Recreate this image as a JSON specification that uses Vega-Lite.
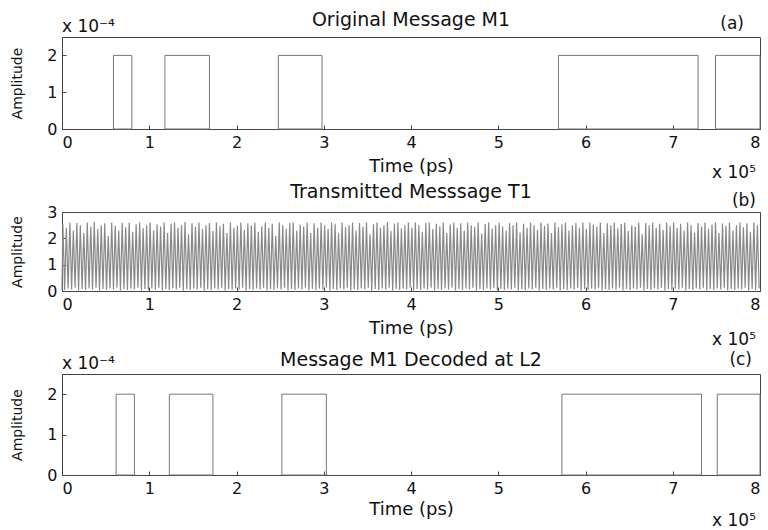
{
"$schema": "https://vega.github.io/schema/vega-lite/v6.json",
"padding": {"left": 10, "top": 10, "right": 2, "bottom": 0},
"spacing": 83,
"bounds": "flush",
"config": {
  "font": "DejaVu Sans",
  "view": {"stroke": "#444", "strokeWidth": 1},
  "axis": {"domainColor": "#444", "tickColor": "#444", "labelColor": "#111", "titleColor": "#111", "labelFont": "DejaVu Sans", "titleFont": "DejaVu Sans", "labelFontSize": 16, "titleFontSize": 18, "titleFontWeight": "normal", "grid": false, "tickSize": -4, "format": "d", "labelOverlap": false},
  "axisY": {"titleFontSize": 14, "labelPadding": 9, "titlePadding": 22},
  "axisX": {"labelPadding": 9},
  "text": {"font": "DejaVu Sans", "fontSize": 17, "color": "#111"}
},
"datasets": {
  "m1": [{"s":0.59,"e":0.80,"h":2},{"s":1.18,"e":1.69,"h":2},{"s":2.48,"e":2.98,"h":2},{"s":5.69,"e":7.29,"h":2},{"s":7.49,"e":8,"h":2}],
  "d1": [{"s":0.62,"e":0.83,"h":2},{"s":1.23,"e":1.73,"h":2},{"s":2.52,"e":3.03,"h":2},{"s":5.73,"e":7.33,"h":2},{"s":7.51,"e":8,"h":2}],
  "t1": [
{"t":0,"a":0.06},
{"t":0.01,"a":2.55},{"t":0.03,"a":0.04},{"t":0.05,"a":2.4},{"t":0.07,"a":0.1},{"t":0.09,"a":2.6},{"t":0.11,"a":0.06},{"t":0.13,"a":2.3},{"t":0.15,"a":0.12},{"t":0.17,"a":2.58},{"t":0.19,"a":0.02},{"t":0.21,"a":2.5},{"t":0.23,"a":0.08},{"t":0.25,"a":2.2},{"t":0.27,"a":0.04},{"t":0.29,"a":2.6},{"t":0.31,"a":0.1},{"t":0.33,"a":2.45},{"t":0.35,"a":0.06},{"t":0.37,"a":2.62},{"t":0.39,"a":0.12},{"t":0.41,"a":2.35},{"t":0.43,"a":0.02},{"t":0.45,"a":2.5},{"t":0.47,"a":0.08},{"t":0.49,"a":2.57},{"t":0.51,"a":0.04},{"t":0.53,"a":2.1},{"t":0.55,"a":0.1},{"t":0.57,"a":2.6},{"t":0.59,"a":0.06},{"t":0.61,"a":2.48},{"t":0.63,"a":0.12},{"t":0.65,"a":2.3},{"t":0.67,"a":0.02},{"t":0.69,"a":2.59},{"t":0.71,"a":0.08},{"t":0.73,"a":2.42},{"t":0.75,"a":0.04},{"t":0.77,"a":2.6},{"t":0.79,"a":0.1},{"t":0.81,"a":2.25},{"t":0.83,"a":0.06},{"t":0.85,"a":2.53},{"t":0.87,"a":0.12},{"t":0.89,"a":2.6},{"t":0.91,"a":0.02},{"t":0.93,"a":2.38},{"t":0.95,"a":0.08},{"t":0.97,"a":2.5},{"t":0.99,"a":0.04},
{"t":1.01,"a":2.6},{"t":1.03,"a":0.1},{"t":1.05,"a":2.3},{"t":1.07,"a":0.06},{"t":1.09,"a":2.52},{"t":1.11,"a":0.12},{"t":1.13,"a":2.45},{"t":1.15,"a":0.02},{"t":1.17,"a":2.6},{"t":1.19,"a":0.08},{"t":1.21,"a":2.2},{"t":1.23,"a":0.04},{"t":1.25,"a":2.55},{"t":1.27,"a":0.1},{"t":1.29,"a":2.6},{"t":1.31,"a":0.06},{"t":1.33,"a":2.4},{"t":1.35,"a":0.12},{"t":1.37,"a":2.5},{"t":1.39,"a":0.02},{"t":1.41,"a":2.62},{"t":1.43,"a":0.08},{"t":1.45,"a":2.15},{"t":1.47,"a":0.04},{"t":1.49,"a":2.57},{"t":1.51,"a":0.1},{"t":1.53,"a":2.44},{"t":1.55,"a":0.06},{"t":1.57,"a":2.6},{"t":1.59,"a":0.12},{"t":1.61,"a":2.35},{"t":1.63,"a":0.02},{"t":1.65,"a":2.5},{"t":1.67,"a":0.08},{"t":1.69,"a":2.58},{"t":1.71,"a":0.04},{"t":1.73,"a":2.28},{"t":1.75,"a":0.1},{"t":1.77,"a":2.6},{"t":1.79,"a":0.06},{"t":1.81,"a":2.46},{"t":1.83,"a":0.12},{"t":1.85,"a":2.55},{"t":1.87,"a":0.02},{"t":1.89,"a":2.2},{"t":1.91,"a":0.08},{"t":1.93,"a":2.6},{"t":1.95,"a":0.04},{"t":1.97,"a":2.4},{"t":1.99,"a":0.1},
{"t":2.01,"a":2.48},{"t":2.03,"a":0.06},{"t":2.05,"a":2.6},{"t":2.07,"a":0.12},{"t":2.09,"a":2.32},{"t":2.11,"a":0.02},{"t":2.13,"a":2.57},{"t":2.15,"a":0.08},{"t":2.17,"a":2.5},{"t":2.19,"a":0.04},{"t":2.21,"a":2.6},{"t":2.23,"a":0.1},{"t":2.25,"a":2.25},{"t":2.27,"a":0.06},{"t":2.29,"a":2.45},{"t":2.31,"a":0.12},{"t":2.33,"a":2.6},{"t":2.35,"a":0.02},{"t":2.37,"a":2.4},{"t":2.39,"a":0.08},{"t":2.41,"a":2.55},{"t":2.43,"a":0.04},{"t":2.45,"a":2.1},{"t":2.47,"a":0.1},{"t":2.49,"a":2.6},{"t":2.51,"a":0.06},{"t":2.53,"a":2.5},{"t":2.55,"a":0.12},{"t":2.57,"a":2.36},{"t":2.59,"a":0.02},{"t":2.61,"a":2.58},{"t":2.63,"a":0.08},{"t":2.65,"a":2.6},{"t":2.67,"a":0.04},{"t":2.69,"a":2.3},{"t":2.71,"a":0.1},{"t":2.73,"a":2.52},{"t":2.75,"a":0.06},{"t":2.77,"a":2.45},{"t":2.79,"a":0.12},{"t":2.81,"a":2.6},{"t":2.83,"a":0.02},{"t":2.85,"a":2.2},{"t":2.87,"a":0.08},{"t":2.89,"a":2.57},{"t":2.91,"a":0.04},{"t":2.93,"a":2.4},{"t":2.95,"a":0.1},{"t":2.97,"a":2.6},{"t":2.99,"a":0.06},
{"t":3.01,"a":2.5},{"t":3.03,"a":0.12},{"t":3.05,"a":2.35},{"t":3.07,"a":0.02},{"t":3.09,"a":2.6},{"t":3.11,"a":0.08},{"t":3.13,"a":2.55},{"t":3.15,"a":0.04},{"t":3.17,"a":2.2},{"t":3.19,"a":0.1},{"t":3.21,"a":2.6},{"t":3.23,"a":0.06},{"t":3.25,"a":2.42},{"t":3.27,"a":0.12},{"t":3.29,"a":2.5},{"t":3.31,"a":0.02},{"t":3.33,"a":2.6},{"t":3.35,"a":0.08},{"t":3.37,"a":2.3},{"t":3.39,"a":0.04},{"t":3.41,"a":2.58},{"t":3.43,"a":0.1},{"t":3.45,"a":2.45},{"t":3.47,"a":0.06},{"t":3.49,"a":2.6},{"t":3.51,"a":0.12},{"t":3.53,"a":2.15},{"t":3.55,"a":0.02},{"t":3.57,"a":2.53},{"t":3.59,"a":0.08},{"t":3.61,"a":2.6},{"t":3.63,"a":0.04},{"t":3.65,"a":2.4},{"t":3.67,"a":0.1},{"t":3.69,"a":2.5},{"t":3.71,"a":0.06},{"t":3.73,"a":2.62},{"t":3.75,"a":0.12},{"t":3.77,"a":2.28},{"t":3.79,"a":0.02},{"t":3.81,"a":2.55},{"t":3.83,"a":0.08},{"t":3.85,"a":2.6},{"t":3.87,"a":0.04},{"t":3.89,"a":2.38},{"t":3.91,"a":0.1},{"t":3.93,"a":2.5},{"t":3.95,"a":0.06},{"t":3.97,"a":2.6},{"t":3.99,"a":0.12},
{"t":4.01,"a":2.4},{"t":4.03,"a":0.02},{"t":4.05,"a":2.6},{"t":4.07,"a":0.08},{"t":4.09,"a":2.5},{"t":4.11,"a":0.04},{"t":4.13,"a":2.25},{"t":4.15,"a":0.1},{"t":4.17,"a":2.58},{"t":4.19,"a":0.06},{"t":4.21,"a":2.6},{"t":4.23,"a":0.12},{"t":4.25,"a":2.35},{"t":4.27,"a":0.02},{"t":4.29,"a":2.55},{"t":4.31,"a":0.08},{"t":4.33,"a":2.46},{"t":4.35,"a":0.04},{"t":4.37,"a":2.6},{"t":4.39,"a":0.1},{"t":4.41,"a":2.2},{"t":4.43,"a":0.06},{"t":4.45,"a":2.52},{"t":4.47,"a":0.12},{"t":4.49,"a":2.6},{"t":4.51,"a":0.02},{"t":4.53,"a":2.4},{"t":4.55,"a":0.08},{"t":4.57,"a":2.57},{"t":4.59,"a":0.04},{"t":4.61,"a":2.3},{"t":4.63,"a":0.1},{"t":4.65,"a":2.6},{"t":4.67,"a":0.06},{"t":4.69,"a":2.5},{"t":4.71,"a":0.12},{"t":4.73,"a":2.44},{"t":4.75,"a":0.02},{"t":4.77,"a":2.6},{"t":4.79,"a":0.08},{"t":4.81,"a":2.18},{"t":4.83,"a":0.04},{"t":4.85,"a":2.55},{"t":4.87,"a":0.1},{"t":4.89,"a":2.6},{"t":4.91,"a":0.06},{"t":4.93,"a":2.36},{"t":4.95,"a":0.12},{"t":4.97,"a":2.5},{"t":4.99,"a":0.02},
{"t":5.01,"a":2.6},{"t":5.03,"a":0.08},{"t":5.05,"a":2.45},{"t":5.07,"a":0.04},{"t":5.09,"a":2.3},{"t":5.11,"a":0.1},{"t":5.13,"a":2.58},{"t":5.15,"a":0.06},{"t":5.17,"a":2.5},{"t":5.19,"a":0.12},{"t":5.21,"a":2.6},{"t":5.23,"a":0.02},{"t":5.25,"a":2.22},{"t":5.27,"a":0.08},{"t":5.29,"a":2.55},{"t":5.31,"a":0.04},{"t":5.33,"a":2.4},{"t":5.35,"a":0.1},{"t":5.37,"a":2.6},{"t":5.39,"a":0.06},{"t":5.41,"a":2.5},{"t":5.43,"a":0.12},{"t":5.45,"a":2.33},{"t":5.47,"a":0.02},{"t":5.49,"a":2.6},{"t":5.51,"a":0.08},{"t":5.53,"a":2.47},{"t":5.55,"a":0.04},{"t":5.57,"a":2.56},{"t":5.59,"a":0.1},{"t":5.61,"a":2.2},{"t":5.63,"a":0.06},{"t":5.65,"a":2.6},{"t":5.67,"a":0.12},{"t":5.69,"a":2.42},{"t":5.71,"a":0.02},{"t":5.73,"a":2.52},{"t":5.75,"a":0.08},{"t":5.77,"a":2.6},{"t":5.79,"a":0.04},{"t":5.81,"a":2.3},{"t":5.83,"a":0.1},{"t":5.85,"a":2.5},{"t":5.87,"a":0.06},{"t":5.89,"a":2.58},{"t":5.91,"a":0.12},{"t":5.93,"a":2.4},{"t":5.95,"a":0.02},{"t":5.97,"a":2.6},{"t":5.99,"a":0.08},
{"t":6.01,"a":2.35},{"t":6.03,"a":0.04},{"t":6.05,"a":2.6},{"t":6.07,"a":0.1},{"t":6.09,"a":2.52},{"t":6.11,"a":0.06},{"t":6.13,"a":2.45},{"t":6.15,"a":0.12},{"t":6.17,"a":2.6},{"t":6.19,"a":0.02},{"t":6.21,"a":2.2},{"t":6.23,"a":0.08},{"t":6.25,"a":2.57},{"t":6.27,"a":0.04},{"t":6.29,"a":2.5},{"t":6.31,"a":0.1},{"t":6.33,"a":2.6},{"t":6.35,"a":0.06},{"t":6.37,"a":2.38},{"t":6.39,"a":0.12},{"t":6.41,"a":2.55},{"t":6.43,"a":0.02},{"t":6.45,"a":2.6},{"t":6.47,"a":0.08},{"t":6.49,"a":2.28},{"t":6.51,"a":0.04},{"t":6.53,"a":2.5},{"t":6.55,"a":0.1},{"t":6.57,"a":2.44},{"t":6.59,"a":0.06},{"t":6.61,"a":2.6},{"t":6.63,"a":0.12},{"t":6.65,"a":2.15},{"t":6.67,"a":0.02},{"t":6.69,"a":2.58},{"t":6.71,"a":0.08},{"t":6.73,"a":2.5},{"t":6.75,"a":0.04},{"t":6.77,"a":2.6},{"t":6.79,"a":0.1},{"t":6.81,"a":2.4},{"t":6.83,"a":0.06},{"t":6.85,"a":2.55},{"t":6.87,"a":0.12},{"t":6.89,"a":2.32},{"t":6.91,"a":0.02},{"t":6.93,"a":2.6},{"t":6.95,"a":0.08},{"t":6.97,"a":2.48},{"t":6.99,"a":0.04},
{"t":7.01,"a":2.6},{"t":7.03,"a":0.1},{"t":7.05,"a":2.4},{"t":7.07,"a":0.06},{"t":7.09,"a":2.55},{"t":7.11,"a":0.12},{"t":7.13,"a":2.3},{"t":7.15,"a":0.02},{"t":7.17,"a":2.6},{"t":7.19,"a":0.08},{"t":7.21,"a":2.5},{"t":7.23,"a":0.04},{"t":7.25,"a":2.22},{"t":7.27,"a":0.1},{"t":7.29,"a":2.58},{"t":7.31,"a":0.06},{"t":7.33,"a":2.45},{"t":7.35,"a":0.12},{"t":7.37,"a":2.6},{"t":7.39,"a":0.02},{"t":7.41,"a":2.36},{"t":7.43,"a":0.08},{"t":7.45,"a":2.52},{"t":7.47,"a":0.04},{"t":7.49,"a":2.6},{"t":7.51,"a":0.1},{"t":7.53,"a":2.2},{"t":7.55,"a":0.06},{"t":7.57,"a":2.56},{"t":7.59,"a":0.12},{"t":7.61,"a":2.48},{"t":7.63,"a":0.02},{"t":7.65,"a":2.6},{"t":7.67,"a":0.08},{"t":7.69,"a":2.3},{"t":7.71,"a":0.04},{"t":7.73,"a":2.5},{"t":7.75,"a":0.1},{"t":7.77,"a":2.6},{"t":7.79,"a":0.06},{"t":7.81,"a":2.42},{"t":7.83,"a":0.12},{"t":7.85,"a":2.57},{"t":7.87,"a":0.02},{"t":7.89,"a":2.25},{"t":7.91,"a":0.08},{"t":7.93,"a":2.6},{"t":7.95,"a":0.04},{"t":7.97,"a":2.5},{"t":7.99,"a":0.1}
  ],
  "labA": [{"title":"Original Message M1","tag":"(a)","mult":"x 10⁻⁴","xm":"x 10⁵"}],
  "labB": [{"title":"Transmitted Messsage T1","tag":"(b)","xm":"x 10⁵"}],
  "labC": [{"title":"Message M1 Decoded at L2","tag":"(c)","mult":"x 10⁻⁴","xm":"x 10⁵"}]
},
"vconcat": [
  {
    "width": 698, "height": 92,
    "layer": [
      {"data": {"name": "m1"},
       "mark": {"type": "rect", "fillOpacity": 0, "stroke": "#777", "strokeWidth": 1},
       "encoding": {
         "x": {"field": "s", "type": "quantitative", "scale": {"domain": [0, 8], "nice": false}, "axis": {"values": [0,1,2,3,4,5,6,7,8], "title": "Time (ps)", "titlePadding": 7}},
         "x2": {"field": "e"},
         "y": {"field": "h", "type": "quantitative", "scale": {"domain": [0, 2.5], "nice": false}, "axis": {"values": [0,1,2], "title": "Amplitude", "labelOverlap": false}},
         "y2": {"datum": 0}
       }},
      {"data": {"name": "labA"},
       "mark": {"type": "text", "align": "center", "dy": -17, "fontSize": 19},
       "encoding": {"x": {"datum": 4, "type": "quantitative"}, "y": {"datum": 2.5, "type": "quantitative"}, "text": {"field": "title"}}},
      {"data": {"name": "labA"},
       "mark": {"type": "text", "align": "right", "dx": -16, "dy": -13},
       "encoding": {"x": {"datum": 8, "type": "quantitative"}, "y": {"datum": 2.5, "type": "quantitative"}, "text": {"field": "tag"}}},
      {"data": {"name": "labA"},
       "mark": {"type": "text", "align": "left", "dx": 0, "dy": -10},
       "encoding": {"x": {"datum": 0, "type": "quantitative"}, "y": {"datum": 2.5, "type": "quantitative"}, "text": {"field": "mult"}}},
      {"data": {"name": "labA"},
       "mark": {"type": "text", "align": "right", "dx": -4, "dy": 44},
       "encoding": {"x": {"datum": 8, "type": "quantitative"}, "y": {"datum": 0, "type": "quantitative"}, "text": {"field": "xm"}}}
    ]
  },
  {
    "width": 698, "height": 79,
    "layer": [
      {"data": {"name": "t1"},
       "mark": {"type": "line", "stroke": "#888", "strokeWidth": 1.2},
       "encoding": {
         "x": {"field": "t", "type": "quantitative", "scale": {"domain": [0, 8], "nice": false}, "axis": {"values": [0,1,2,3,4,5,6,7,8], "title": "Time (ps)", "titlePadding": 7}},
         "y": {"field": "a", "type": "quantitative", "scale": {"domain": [0, 3], "nice": false}, "axis": {"values": [0,1,2,3], "tickCount": 4, "title": "Amplitude", "labelOverlap": false}}
       }},
      {"data": {"name": "labB"},
       "mark": {"type": "text", "align": "center", "dy": -20, "fontSize": 19},
       "encoding": {"x": {"datum": 4, "type": "quantitative"}, "y": {"datum": 3, "type": "quantitative", "axis": {"values": [0,1,2,3], "tickCount": 4, "title": "Amplitude", "labelOverlap": false}}, "text": {"field": "title"}}},
      {"data": {"name": "labB"},
       "mark": {"type": "text", "align": "right", "dx": -4, "dy": -11},
       "encoding": {"x": {"datum": 8, "type": "quantitative"}, "y": {"datum": 3, "type": "quantitative", "axis": {"values": [0,1,2,3], "tickCount": 4, "title": "Amplitude", "labelOverlap": false}}, "text": {"field": "tag"}}},
      {"data": {"name": "labB"},
       "mark": {"type": "text", "align": "right", "dx": -4, "dy": 49},
       "encoding": {"x": {"datum": 8, "type": "quantitative"}, "y": {"datum": 0, "type": "quantitative", "axis": {"values": [0,1,2,3], "tickCount": 4, "title": "Amplitude", "labelOverlap": false}}, "text": {"field": "xm"}}}
    ]
  },
  {
    "width": 698, "height": 101,
    "layer": [
      {"data": {"name": "d1"},
       "mark": {"type": "rect", "fillOpacity": 0, "stroke": "#777", "strokeWidth": 1},
       "encoding": {
         "x": {"field": "s", "type": "quantitative", "scale": {"domain": [0, 8], "nice": false}, "axis": {"values": [0,1,2,3,4,5,6,7,8], "title": "Time (ps)", "titlePadding": 4}},
         "x2": {"field": "e"},
         "y": {"field": "h", "type": "quantitative", "scale": {"domain": [0, 2.5], "nice": false}, "axis": {"values": [0,1,2], "title": "Amplitude", "labelOverlap": false}},
         "y2": {"datum": 0}
       }},
      {"data": {"name": "labC"},
       "mark": {"type": "text", "align": "center", "dy": -14, "fontSize": 19},
       "encoding": {"x": {"datum": 4, "type": "quantitative"}, "y": {"datum": 2.5, "type": "quantitative"}, "text": {"field": "title"}}},
      {"data": {"name": "labC"},
       "mark": {"type": "text", "align": "right", "dx": -8, "dy": -14},
       "encoding": {"x": {"datum": 8, "type": "quantitative"}, "y": {"datum": 2.5, "type": "quantitative"}, "text": {"field": "tag"}}},
      {"data": {"name": "labC"},
       "mark": {"type": "text", "align": "left", "dx": 0, "dy": -10},
       "encoding": {"x": {"datum": 0, "type": "quantitative"}, "y": {"datum": 2.5, "type": "quantitative"}, "text": {"field": "mult"}}},
      {"data": {"name": "labC"},
       "mark": {"type": "text", "align": "right", "dx": -4, "dy": 46},
       "encoding": {"x": {"datum": 8, "type": "quantitative"}, "y": {"datum": 0, "type": "quantitative"}, "text": {"field": "xm"}}}
    ]
  }
]
}
